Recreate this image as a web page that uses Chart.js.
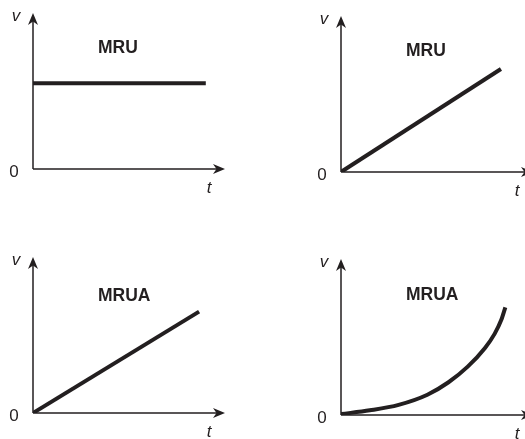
<!DOCTYPE html>
<html>
<head>
<meta charset="utf-8">
<script src="https://cdn.jsdelivr.net/npm/chart.js@4.4.0/dist/chart.umd.min.js"></script>
<style>
  html, body { margin: 0; padding: 0; background: #fff; overflow: hidden; }
  body { width: 525px; height: 439px; position: relative; }
  canvas { position: absolute; }
</style>
</head>
<body>
<canvas id="c1" width="240" height="200" style="left:0px;top:0px"></canvas>
<canvas id="c2" width="240" height="200" style="left:308px;top:3px"></canvas>
<canvas id="c3" width="240" height="200" style="left:0px;top:244px"></canvas>
<canvas id="c4" width="240" height="200" style="left:308px;top:246px"></canvas>
<script>
// chart values
const panelTitles = ['MRU', 'MRU', 'MRUA', 'MRUA'];
const axisNames = ['t', 'v'];
const originLabel = '0';

const constT = [0, 9.0];
const constV = [5.5, 5.5];

const linearT = [0, 8.33];
const linearV = [0, 6.6];

const accelT = [0, 8.65];
const accelV = [0, 6.5];

const curveT = [0, 1.5, 3, 4.5, 5.6, 6.6, 7.5, 8.0, 8.35, 8.56];
const curveV = [0.06, 0.3, 0.65, 1.3, 2.1, 3.1, 4.3, 5.2, 6.1, 6.9];

const ink = '#231f20';

function arrowHead(ctx, x, y, dir) {
    // dir: 'up' or 'right'
    ctx.save();
    ctx.translate(x, y);
    if (dir === 'right') ctx.rotate(Math.PI / 2);
    ctx.beginPath();
    ctx.moveTo(0, 0);
    ctx.lineTo(5, 12);
    ctx.lineTo(0, 8.5);
    ctx.lineTo(-5, 12);
    ctx.closePath();
    ctx.fillStyle = ink;
    ctx.fill();
    ctx.restore();
}

// draws axes with arrows and the labels
const axesPlugin = {
    id: 'axesPlugin',
    beforeDatasetsDraw(chart, args, opts) {
        const a = chart.chartArea;
        const ctx = chart.ctx;
        ctx.save();
        ctx.strokeStyle = ink;
        ctx.lineWidth = 1.5;
        ctx.beginPath();
        ctx.moveTo(a.left, a.bottom);
        ctx.lineTo(a.left, a.top + 6);
        ctx.moveTo(a.left, a.bottom);
        ctx.lineTo(a.right - 6, a.bottom);
        ctx.stroke();
        arrowHead(ctx, a.left, a.top, 'up');
        arrowHead(ctx, a.right, a.bottom, 'right');

        ctx.fillStyle = ink;
        ctx.textAlign = 'center';
        ctx.textBaseline = 'alphabetic';
        ctx.font = 'italic 17px "Liberation Sans", Arial, sans-serif';
        ctx.fillText(axisNames[1], a.left - 17, a.top + 8);
        ctx.fillText(axisNames[0], a.right - 16, a.bottom + 24);
        ctx.font = '17px "Liberation Sans", Arial, sans-serif';
        ctx.fillText(originLabel, a.left - 19, a.bottom + 8);

        ctx.textAlign = 'left';
        ctx.font = 'bold 17.5px "Liberation Sans", Arial, sans-serif';
        ctx.fillText(opts.title, a.left + 65, a.top + opts.titleY);
        ctx.restore();
    }
};

function makePanel(id, title, titleY, ts, vs, curved) {
    const points = ts.map((t, i) => ({ x: t, y: vs[i] }));
    new Chart(document.getElementById(id), {
        type: 'line',
        data: {
            datasets: [{
                data: points,
                borderColor: ink,
                borderWidth: 4,
                pointRadius: 0,
                fill: false,
                cubicInterpolationMode: curved ? 'monotone' : 'default',
                tension: curved ? 0.4 : 0,
                borderCapStyle: 'butt'
            }]
        },
        options: {
            responsive: false,
            animation: false,
            layout: { padding: { left: 33, top: 13, right: 15, bottom: 31 } },
            plugins: {
                legend: { display: false },
                tooltip: { enabled: false },
                axesPlugin: { title: title, titleY: titleY }
            },
            scales: {
                x: { type: 'linear', min: 0, max: 10, display: false },
                y: { type: 'linear', min: 0, max: 10, display: false }
            }
        },
        plugins: [axesPlugin]
    });
}

makePanel('c1', panelTitles[0], 40, constT, constV, false);
makePanel('c2', panelTitles[1], 40, linearT, linearV, false);
makePanel('c3', panelTitles[2], 44, accelT, accelV, false);
makePanel('c4', panelTitles[3], 41, curveT, curveV, true);
</script>
</body>
</html>
